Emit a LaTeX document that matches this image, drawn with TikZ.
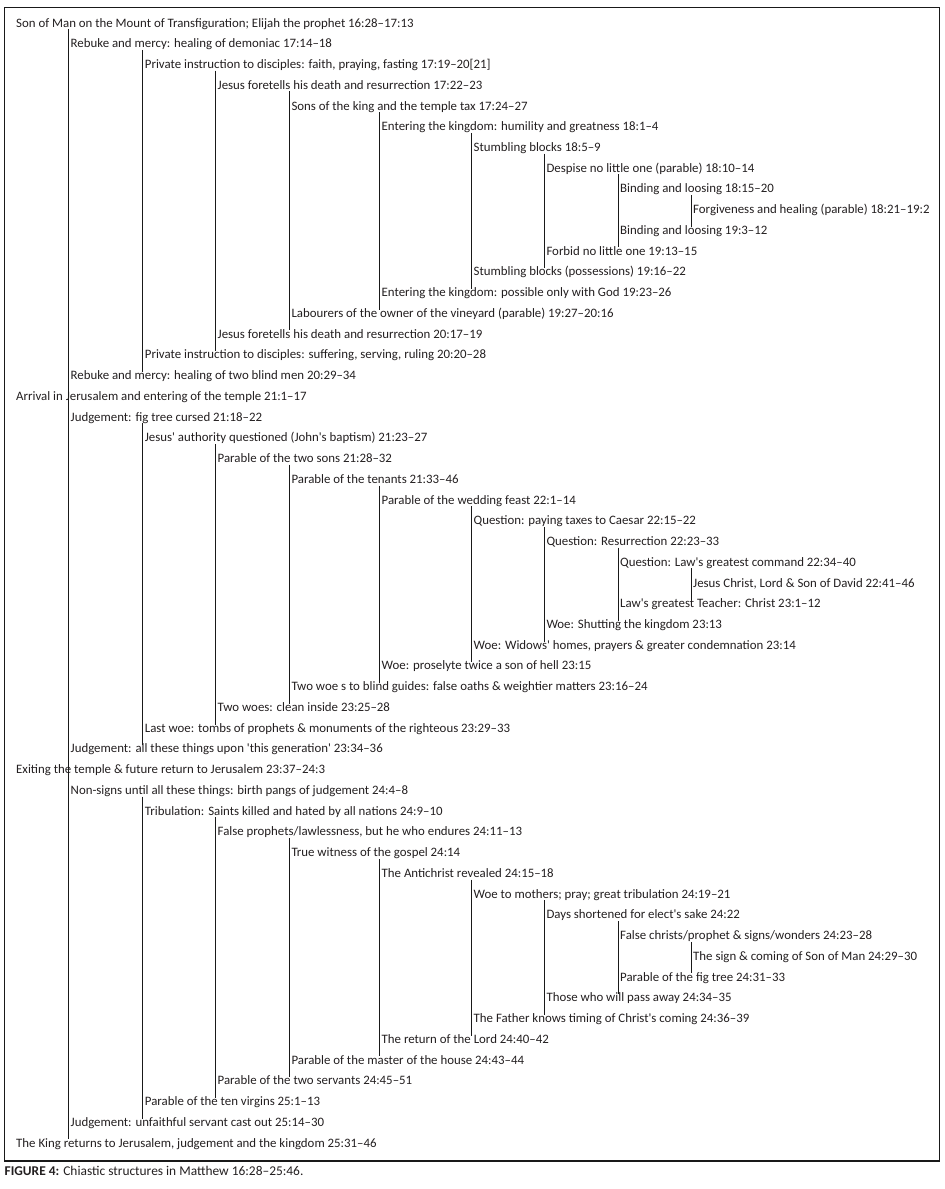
\documentclass[tikz,border=0pt]{standalone}
\usepackage{fontspec}
\newfontfamily\entryfont{Carlito}
\usepackage{tikz}
\usetikzlibrary{positioning}

\begin{document}
\begin{tikzpicture}[x=1bp, y=-1bp,
    rowtext/.style={anchor=base west, inner xsep=2bp, inner ysep=0pt, text height=7.5bp, text depth=2bp,
        font={\entryfont\fontsize{12.85bp}{14bp}\selectfont}, text=textgray},
    pairline/.style={line width=0.9bp, draw=black!90}]
    % Define colors
    \definecolor{textgray}{RGB}{35, 31, 32}

    \useasboundingbox (0, 0) rectangle (945, 1189);

    % Frame
    \draw[line width=1.2bp, black!90] (4.5, 7.5) rectangle (939.5, 1161);

    % First part: Transfiguration to Jericho
    \node[rowtext] (r1) at (14, 27.0) {Son of Man on the Mount of Transfiguration; Elijah the prophet 16:28–17:13};
    \node[rowtext] (r2) at (68.5, 47.7) {Rebuke and mercy: healing of demoniac 17:14–18};
    \node[rowtext] (r3) at (142.7, 68.5) {Private instruction to disciples: faith, praying, fasting 17:19–20[21]};
    \node[rowtext] (r4) at (215.5, 89.2) {Jesus foretells his death and resurrection 17:22–23};
    \node[rowtext] (r5) at (289.3, 110.0) {Sons of the king and the temple tax 17:24–27};
    \node[rowtext] (r6) at (379.5, 130.7) {Entering the kingdom: humility and greatness 18:1–4};
    \node[rowtext] (r7) at (471.5, 151.4) {Stumbling blocks 18:5–9};
    \node[rowtext] (r8) at (544.3, 172.2) {Despise no little one (parable) 18:10–14};
    \node[rowtext] (r9) at (618, 192.9) {Binding and loosing 18:15–20};
    \node[rowtext] (r10) at (691, 213.7) {Forgiveness and healing (parable) 18:21–19:2};
    \node[rowtext] (r11) at (618, 234.4) {Binding and loosing 19:3–12};
    \node[rowtext] (r12) at (544.3, 255.1) {Forbid no little one 19:13–15};
    \node[rowtext] (r13) at (471.5, 275.9) {Stumbling blocks (possessions) 19:16–22};
    \node[rowtext] (r14) at (379.5, 296.6) {Entering the kingdom: possible only with God 19:23–26};
    \node[rowtext] (r15) at (289.3, 317.4) {Labourers of the owner of the vineyard (parable) 19:27–20:16};
    \node[rowtext] (r16) at (215.5, 338.1) {Jesus foretells his death and resurrection 20:17–19};
    \node[rowtext] (r17) at (142.7, 358.8) {Private instruction to disciples: suffering, serving, ruling 20:20–28};
    \node[rowtext] (r18) at (68.5, 379.6) {Rebuke and mercy: healing of two blind men 20:29–34};

    % Second part: in the temple
    \node[rowtext] (r19) at (14, 400.3) {Arrival in Jerusalem and entering of the temple 21:1–17};
    \node[rowtext] (r20) at (68.5, 421.1) {Judgement: fig tree cursed 21:18–22};
    \node[rowtext] (r21) at (142.7, 441.8) {Jesus' authority questioned (John's baptism) 21:23–27};
    \node[rowtext] (r22) at (215.5, 462.5) {Parable of the two sons 21:28–32};
    \node[rowtext] (r23) at (289.3, 483.3) {Parable of the tenants 21:33–46};
    \node[rowtext] (r24) at (379.5, 504.0) {Parable of the wedding feast 22:1–14};
    \node[rowtext] (r25) at (471.5, 524.8) {Question: paying taxes to Caesar 22:15–22};
    \node[rowtext] (r26) at (544.3, 545.5) {Question: Resurrection 22:23–33};
    \node[rowtext] (r27) at (618, 566.2) {Question: Law's greatest command 22:34–40};
    \node[rowtext] (r28) at (691, 587.0) {Jesus Christ, Lord \& Son of David 22:41–46};
    \node[rowtext] (r29) at (618, 607.7) {Law's greatest Teacher: Christ 23:1–12};
    \node[rowtext] (r30) at (544.3, 628.5) {Woe: Shutting the kingdom 23:13};
    \node[rowtext] (r31) at (471.5, 649.2) {Woe: Widows' homes, prayers \& greater condemnation 23:14};
    \node[rowtext] (r32) at (379.5, 669.9) {Woe: proselyte twice a son of hell 23:15};
    \node[rowtext] (r33) at (289.3, 690.7) {Two woe s to blind guides: false oaths \& weightier matters 23:16–24};
    \node[rowtext] (r34) at (215.5, 711.4) {Two woes: clean inside 23:25–28};
    \node[rowtext] (r35) at (142.7, 732.2) {Last woe: tombs of prophets \& monuments of the righteous 23:29–33};
    \node[rowtext] (r36) at (68.5, 752.9) {Judgement: all these things upon 'this generation' 23:34–36};

    % Third part: Olivet discourse
    \node[rowtext] (r37) at (14, 773.6) {Exiting the temple \& future return to Jerusalem 23:37–24:3};
    \node[rowtext] (r38) at (68.5, 794.4) {Non-signs until all these things: birth pangs of judgement 24:4–8};
    \node[rowtext] (r39) at (142.7, 815.1) {Tribulation: Saints killed and hated by all nations 24:9–10};
    \node[rowtext] (r40) at (215.5, 835.9) {False prophets/lawlessness, but he who endures 24:11–13};
    \node[rowtext] (r41) at (289.3, 856.6) {True witness of the gospel 24:14};
    \node[rowtext] (r42) at (379.5, 877.3) {The Antichrist revealed 24:15–18};
    \node[rowtext] (r43) at (471.5, 898.1) {Woe to mothers; pray; great tribulation 24:19–21};
    \node[rowtext] (r44) at (544.3, 918.8) {Days shortened for elect's sake 24:22};
    \node[rowtext] (r45) at (618, 939.6) {False christs/prophet \& signs/wonders 24:23–28};
    \node[rowtext] (r46) at (691, 960.3) {The sign \& coming of Son of Man 24:29–30};
    \node[rowtext] (r47) at (618, 981.0) {Parable of the fig tree 24:31–33};
    \node[rowtext] (r48) at (544.3, 1001.8) {Those who will pass away 24:34–35};
    \node[rowtext] (r49) at (471.5, 1022.5) {The Father knows timing of Christ's coming 24:36–39};
    \node[rowtext] (r50) at (379.5, 1043.3) {The return of the Lord 24:40–42};
    \node[rowtext] (r51) at (289.3, 1064.0) {Parable of the master of the house 24:43–44};
    \node[rowtext] (r52) at (215.5, 1084.7) {Parable of the two servants 24:45–51};
    \node[rowtext] (r53) at (142.7, 1105.5) {Parable of the ten virgins 25:1–13};
    \node[rowtext] (r54) at (68.5, 1126.2) {Judgement: unfaithful servant cast out 25:14–30};
    \node[rowtext] (r55) at (14, 1147.0) {The King returns to Jerusalem, judgement and the kingdom 25:31–46};

    % Outer bracket
    \draw[pairline] (r2.west |- r1.south) -- (r2.west |- r55.north);

    % Brackets of the first part
    \draw[pairline] (r3.west |- r2.south) -- (r3.west |- r18.north);
    \draw[pairline] (r4.west |- r3.south) -- (r4.west |- r17.north);
    \draw[pairline] (r5.west |- r4.south) -- (r5.west |- r16.north);
    \draw[pairline] (r6.west |- r5.south) -- (r6.west |- r15.north);
    \draw[pairline] (r7.west |- r6.south) -- (r7.west |- r14.north);
    \draw[pairline] (r8.west |- r7.south) -- (r8.west |- r13.north);
    \draw[pairline] (r9.west |- r8.south) -- (r9.west |- r12.north);
    \draw[pairline] (r10.west |- r9.south) -- (r10.west |- r11.north);

    % Brackets of the second part
    \draw[pairline] (r21.west |- r20.south) -- (r21.west |- r36.north);
    \draw[pairline] (r22.west |- r21.south) -- (r22.west |- r35.north);
    \draw[pairline] (r23.west |- r22.south) -- (r23.west |- r34.north);
    \draw[pairline] (r24.west |- r23.south) -- (r24.west |- r33.north);
    \draw[pairline] (r25.west |- r24.south) -- (r25.west |- r32.north);
    \draw[pairline] (r26.west |- r25.south) -- (r26.west |- r31.north);
    \draw[pairline] (r27.west |- r26.south) -- (r27.west |- r30.north);
    \draw[pairline] (r28.west |- r27.south) -- (r28.west |- r29.north);

    % Brackets of the third part
    \draw[pairline] (r39.west |- r38.south) -- (r39.west |- r54.north);
    \draw[pairline] (r40.west |- r39.south) -- (r40.west |- r53.north);
    \draw[pairline] (r41.west |- r40.south) -- (r41.west |- r52.north);
    \draw[pairline] (r42.west |- r41.south) -- (r42.west |- r51.north);
    \draw[pairline] (r43.west |- r42.south) -- (r43.west |- r50.north);
    \draw[pairline] (r44.west |- r43.south) -- (r44.west |- r49.north);
    \draw[pairline] (r45.west |- r44.south) -- (r45.west |- r48.north);
    \draw[pairline] (r46.west |- r45.south) -- (r46.west |- r47.north);

    % Caption
    \node[anchor=base west, inner sep=0pt, font={\entryfont\fontsize{13.4bp}{15bp}\selectfont}, text=textgray] (caption) at (4.5, 1175) {\textbf{FIGURE 4:} Chiastic structures in Matthew 16:28–25:46.};
\end{tikzpicture}
\end{document}
